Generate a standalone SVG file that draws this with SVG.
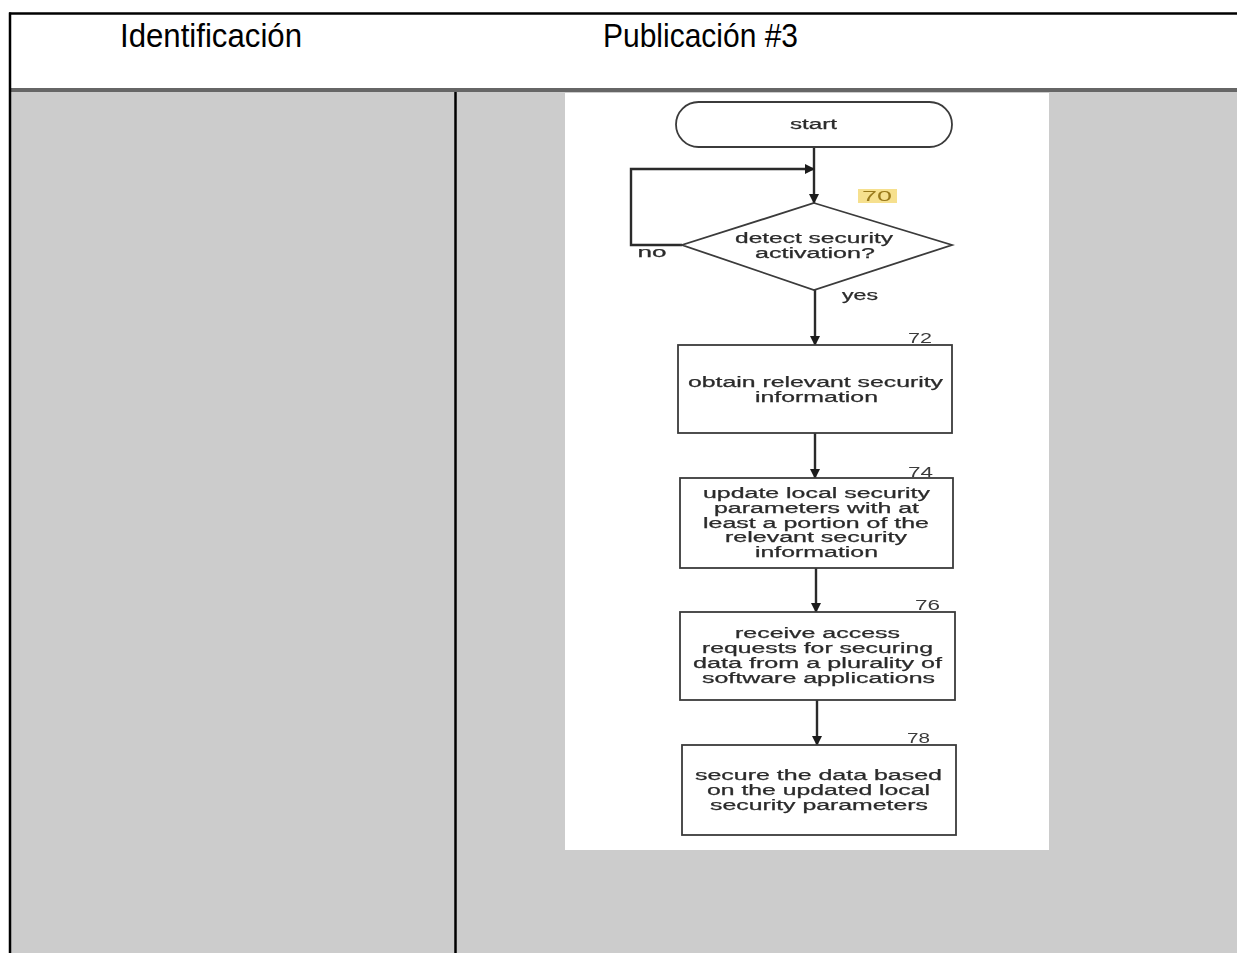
<svg xmlns="http://www.w3.org/2000/svg" width="1237" height="953" viewBox="0 0 1237 953">
  <style>
    .hdr { font-family: "Liberation Sans", Arial, sans-serif; font-size: 34px; fill: #000; }
    .lbl { font-family: "Liberation Sans", Arial, sans-serif; font-size: 14px; fill: #2b2b2b; stroke: #2b2b2b; stroke-width: 0.25; text-anchor: middle; }
    .num { font-family: "Liberation Sans", Arial, sans-serif; font-size: 14px; fill: #3a3a3a; text-anchor: middle; }
    .shape { fill: #fff; stroke: #3a3a3a; stroke-width: 1.8; }
    .conn { fill: none; stroke: #2a2a2a; stroke-width: 2.4; }
  </style>
  <defs>
    <marker id="arrow" viewBox="0 0 10 10" refX="9" refY="5" markerWidth="4.2" markerHeight="4.2" orient="auto" markerUnits="strokeWidth">
      <path d="M0,0 L10,5 L0,10 Z" fill="#1e1e1e"/>
    </marker>
    <filter id="soft" x="-5%" y="-5%" width="110%" height="110%">
      <feGaussianBlur stdDeviation="0.45"/>
    </filter>
  </defs>

  <!-- table background -->
  <rect x="0" y="0" width="1237" height="953" fill="#fff"/>
  <rect x="10" y="92" width="1227" height="861" fill="#cccccc"/>
  <!-- header / body separator -->
  <rect x="10" y="88" width="1227" height="4" fill="#666"/>
  <!-- outer borders and column divider -->
  <line x1="9" y1="13.5" x2="1237" y2="13.5" stroke="#000" stroke-width="2.5"/>
  <line x1="10" y1="12.5" x2="10" y2="953" stroke="#000" stroke-width="2.5"/>
  <line x1="455.5" y1="92" x2="455.5" y2="953" stroke="#000" stroke-width="2.5"/>

  <!-- header texts -->
  <text class="hdr" x="120" y="46.5" textLength="182" lengthAdjust="spacingAndGlyphs">Identificación</text>
  <text class="hdr" x="603" y="46.5" textLength="195" lengthAdjust="spacingAndGlyphs">Publicación #3</text>

  <!-- flowchart panel -->
  <rect x="565" y="93" width="484" height="757" fill="#fff"/>

  <g filter="url(#soft)">
    <g id="connectors">
      <line class="conn" x1="814" y1="147" x2="814" y2="203" marker-end="url(#arrow)"/>
      <polyline class="conn" points="682,245 631,245 631,169 814,169" stroke-width="2" marker-end="url(#arrow)"/>
      <line class="conn" x1="815" y1="290" x2="815" y2="345" marker-end="url(#arrow)"/>
      <line class="conn" x1="815" y1="433" x2="815" y2="478" marker-end="url(#arrow)"/>
      <line class="conn" x1="816" y1="568" x2="816" y2="612" marker-end="url(#arrow)"/>
      <line class="conn" x1="817" y1="700" x2="817" y2="745" marker-end="url(#arrow)"/>
      <text class="lbl" x="652" y="256.5" textLength="29" lengthAdjust="spacingAndGlyphs">no</text>
      <text class="lbl" x="860" y="299.5" textLength="36" lengthAdjust="spacingAndGlyphs">yes</text>
    </g>

    <g id="start">
      <rect class="shape" x="676" y="102" width="276" height="45" rx="22.5"/>
      <text class="lbl" x="813.5" y="128.5" textLength="47" lengthAdjust="spacingAndGlyphs">start</text>
    </g>

    <g id="step70">
      <polygon class="shape" points="814,203 952,245 814,290 682,245"/>
      <rect x="858" y="189" width="39" height="14" fill="#f6e08e"/>
      <text class="num" x="877" y="201" style="fill:#9a7a1c" textLength="30" lengthAdjust="spacingAndGlyphs">70</text>
      <text class="lbl" x="814" y="243" textLength="158" lengthAdjust="spacingAndGlyphs">detect security</text>
      <text class="lbl" x="815" y="258" textLength="120" lengthAdjust="spacingAndGlyphs">activation?</text>
    </g>

    <g id="step72">
      <rect class="shape" x="678" y="345" width="274" height="88"/>
      <text class="num" x="920" y="342.5" textLength="24" lengthAdjust="spacingAndGlyphs">72</text>
      <text class="lbl" x="815.5" y="387" textLength="255" lengthAdjust="spacingAndGlyphs">obtain relevant security</text>
      <text class="lbl" x="816.5" y="402" textLength="123" lengthAdjust="spacingAndGlyphs">information</text>
    </g>

    <g id="step74">
      <rect class="shape" x="680" y="478" width="273" height="90"/>
      <text class="num" x="920.5" y="476.5" textLength="25" lengthAdjust="spacingAndGlyphs">74</text>
      <text class="lbl" x="816.5" y="498" textLength="227" lengthAdjust="spacingAndGlyphs">update local security</text>
      <text class="lbl" x="816.5" y="513" textLength="205" lengthAdjust="spacingAndGlyphs">parameters with at</text>
      <text class="lbl" x="816" y="528" textLength="226" lengthAdjust="spacingAndGlyphs">least a portion of the</text>
      <text class="lbl" x="816" y="542" textLength="182" lengthAdjust="spacingAndGlyphs">relevant security</text>
      <text class="lbl" x="816.5" y="557" textLength="123" lengthAdjust="spacingAndGlyphs">information</text>
    </g>

    <g id="step76">
      <rect class="shape" x="680" y="612" width="275" height="88"/>
      <text class="num" x="927.5" y="609.5" textLength="25" lengthAdjust="spacingAndGlyphs">76</text>
      <text class="lbl" x="817.5" y="638" textLength="165" lengthAdjust="spacingAndGlyphs">receive access</text>
      <text class="lbl" x="817.5" y="653" textLength="231" lengthAdjust="spacingAndGlyphs">requests for securing</text>
      <text class="lbl" x="817.5" y="667.5" textLength="249" lengthAdjust="spacingAndGlyphs">data from a plurality of</text>
      <text class="lbl" x="818.5" y="682.5" textLength="233" lengthAdjust="spacingAndGlyphs">software applications</text>
    </g>

    <g id="step78">
      <rect class="shape" x="682" y="745" width="274" height="90"/>
      <text class="num" x="918.5" y="742.5" textLength="23" lengthAdjust="spacingAndGlyphs">78</text>
      <text class="lbl" x="818.5" y="779.5" textLength="247" lengthAdjust="spacingAndGlyphs">secure the data based</text>
      <text class="lbl" x="818.5" y="794.5" textLength="223" lengthAdjust="spacingAndGlyphs">on the updated local</text>
      <text class="lbl" x="819" y="809.5" textLength="218" lengthAdjust="spacingAndGlyphs">security parameters</text>
    </g>
  </g>
</svg>
